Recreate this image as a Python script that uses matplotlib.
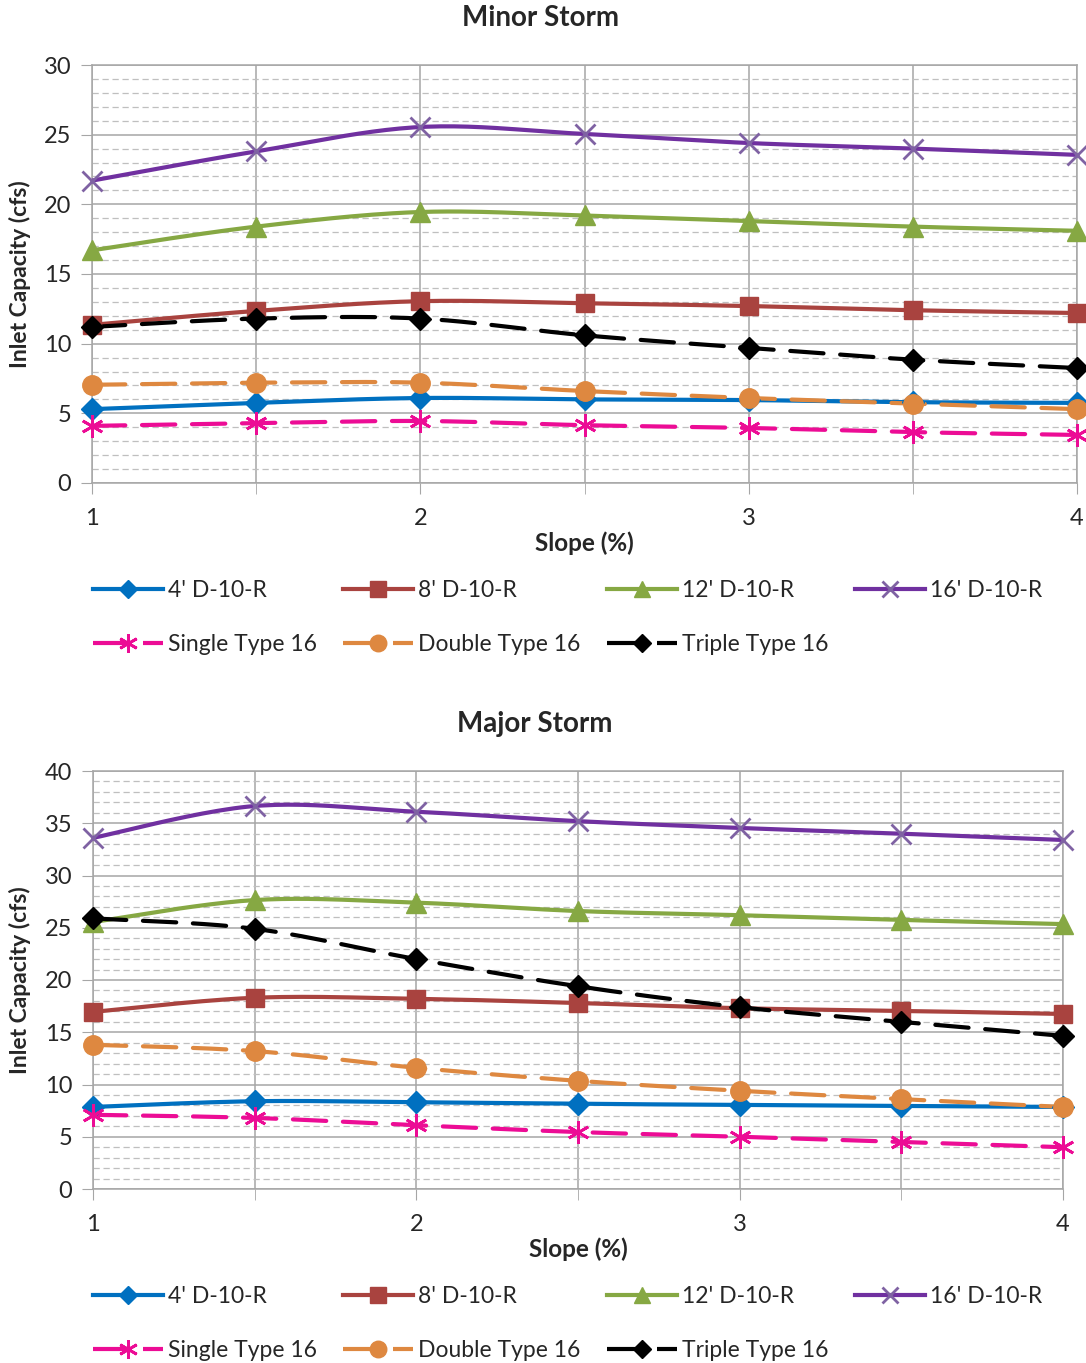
# Capacidad de entrada vs pendiente, tormenta menor y mayor
import numpy as np
import matplotlib
matplotlib.use('Agg')
import matplotlib.pyplot as plt
from matplotlib.lines import Line2D
from matplotlib.ticker import MultipleLocator

plt.rcParams['font.family'] = ['Lato', 'DejaVu Sans']

# Datos
pendiente = [1, 1.5, 2, 2.5, 3, 3.5, 4]
nombres = ["4' D-10-R", "8' D-10-R", "12' D-10-R", "16' D-10-R",
           "Single Type 16", "Double Type 16", "Triple Type 16"]

menor_4 = [5.3, 5.75, 6.1, 6.0, 5.95, 5.8, 5.75]
menor_8 = [11.35, 12.35, 13.05, 12.9, 12.7, 12.4, 12.2]
menor_12 = [16.7, 18.4, 19.45, 19.2, 18.8, 18.4, 18.1]
menor_16 = [21.7, 23.8, 25.55, 25.05, 24.4, 24.0, 23.55]
menor_single = [4.1, 4.3, 4.45, 4.15, 3.95, 3.65, 3.45]
menor_double = [7.05, 7.2, 7.2, 6.6, 6.1, 5.7, 5.3]
menor_triple = [11.2, 11.8, 11.8, 10.6, 9.7, 8.85, 8.25]

mayor_4 = [7.85, 8.4, 8.3, 8.15, 8.05, 7.95, 7.85]
mayor_8 = [16.95, 18.3, 18.2, 17.8, 17.3, 17.05, 16.75]
mayor_12 = [25.55, 27.65, 27.4, 26.6, 26.2, 25.75, 25.35]
mayor_16 = [33.6, 36.65, 36.1, 35.2, 34.55, 34.0, 33.4]
mayor_single = [7.1, 6.8, 6.1, 5.45, 5.0, 4.5, 4.0]
mayor_double = [13.8, 13.2, 11.6, 10.35, 9.4, 8.6, 7.85]
mayor_triple = [25.9, 24.9, 22.0, 19.4, 17.4, 16.0, 14.65]

# Estilos de cada serie: color, linea, marcador, tamano, color marcador
estilos = [
    ('#0070C0', '-', 'D', 11, '#0070C0'),
    ('#A9433F', '-', 's', 13, '#A9433F'),
    ('#86A843', '-', '^', 14, '#86A843'),
    ('#7030A0', '-', 'x', 14, '#7F62A3'),
    ('#EC0C95', '--', (6, 2, 0), 16, '#EC0C95'),
    ('#DE8840', '--', 'o', 14, '#DE8840'),
    ('#000000', '--', 'D', 11, '#000000'),
]
gris = '#A6A6A6'
texto = '#262626'


# Suavizado tipo Excel (Bezier con puntos de control de Catmull-Rom)
def suave(x, y, n=25):
    x = np.asarray(x, float)
    y = np.asarray(y, float)
    xs, ys = [], []
    m = len(x)
    for i in range(m - 1):
        i0 = max(i - 1, 0)
        i3 = min(i + 2, m - 1)
        p0, p1, p2, p3 = [np.array([x[k], y[k]]) for k in (i0, i, i + 1, i3)]
        c1 = p1 + (p2 - p0) / 6
        c2 = p2 - (p3 - p1) / 6
        t = np.linspace(0, 1, n)[:, None]
        b = (1 - t) ** 3 * p1 + 3 * (1 - t) ** 2 * t * c1 + 3 * (1 - t) * t ** 2 * c2 + t ** 3 * p2
        xs.extend(b[:, 0])
        ys.extend(b[:, 1])
    return xs, ys


def grafico(ax, series, ymax, titulo, x_titulo, y_titulo, y_xlabel, y_leyenda):
    ax.set_xlim(1, 4)
    ax.set_ylim(0, ymax)
    ax.yaxis.set_major_locator(MultipleLocator(5))
    ax.yaxis.set_minor_locator(MultipleLocator(1))
    ax.set_xticks([1, 2, 3, 4])
    ax.set_xticks([1.5, 2.5, 3.5], minor=True)
    ax.grid(which='major', axis='both', color=gris, lw=1.1)
    ax.grid(which='minor', axis='y', color='#BFBFBF', lw=0.9, ls=(0, (5, 3)))
    ax.grid(which='minor', axis='x', color=gris, lw=1.1)
    ax.tick_params(axis='y', which='major', length=8, color=gris, labelsize=17, pad=7, labelcolor=texto)
    ax.tick_params(axis='y', which='minor', length=0)
    ax.tick_params(axis='x', which='both', length=8, color=gris, labelsize=17, pad=10, labelcolor=texto)
    for lado in ['left', 'bottom', 'top', 'right']:
        ax.spines[lado].set_color(gris)
        ax.spines[lado].set_linewidth(1.1)
    ax.set_axisbelow(True)

    handles = []
    for vals, (col, ls, mk, ms, mcol) in zip(series, estilos):
        xs, ys = suave(pendiente, vals)
        dash = (0, (8, 4)) if ls == '--' else '-'
        ax.plot(xs, ys, color=col, lw=3, ls=dash, solid_capstyle='round', dash_capstyle='round', zorder=3)
        mew = 2 if mk in ('x', (6, 2, 0)) else 1
        ax.plot(pendiente, vals, ls='none', marker=mk, ms=ms, color=mcol, mec=mcol, mew=mew,
                zorder=4, clip_on=False)
        handles.append(Line2D([], [], color=col, lw=3, ls=dash, marker=mk, ms=ms * 0.85, mec=mcol,
                              mfc=mcol, mew=mew))

    fig = ax.figure
    pos = ax.get_position()
    fig.text(x_titulo, y_titulo, titulo,
             ha='center', va='center', fontsize=20, fontweight='bold', color=texto)
    fig.text(0.5 * (pos.x0 + pos.x1), y_xlabel, 'Slope (%)',
             ha='center', va='center', fontsize=17.5, fontweight='bold', color=texto)
    fig.text(20 / 1086, 0.5 * (pos.y0 + pos.y1), 'Inlet Capacity (cfs)',
             ha='center', va='center', rotation=90, fontsize=16.5, fontweight='bold', color=texto)
    # Excel llena la leyenda por filas
    orden = [0, 4, 1, 5, 2, 6, 3]
    fig.legend([handles[i] for i in orden], [nombres[i] for i in orden], loc='upper left',
               bbox_to_anchor=(93 / 1086, y_leyenda), ncol=4,
               frameon=False, fontsize=16.5, handlelength=3.05, handletextpad=0.22, columnspacing=1.15,
               labelspacing=1.45, borderpad=0, borderaxespad=0, labelcolor=texto)


fig = plt.figure(figsize=(10.86, 13.63), dpi=100)
ax1 = fig.add_axes([92 / 1086, 1 - 483 / 1363, (1077 - 92) / 1086, (483 - 65) / 1363])
ax2 = fig.add_axes([93 / 1086, 1 - 1189 / 1363, (1063 - 93) / 1086, (1189 - 771) / 1363])

grafico(ax1, [menor_4, menor_8, menor_12, menor_16, menor_single, menor_double, menor_triple],
        30, 'Minor Storm', 540 / 1086, 1 - 18 / 1363, 1 - 543 / 1363, 1 - 580 / 1363)
grafico(ax2, [mayor_4, mayor_8, mayor_12, mayor_16, mayor_single, mayor_double, mayor_triple],
        40, 'Major Storm', 535 / 1086, 1 - 724 / 1363, 1 - 1249 / 1363, 1 - 1286 / 1363)

fig.savefig('out.png', dpi=100)
plt.close()
